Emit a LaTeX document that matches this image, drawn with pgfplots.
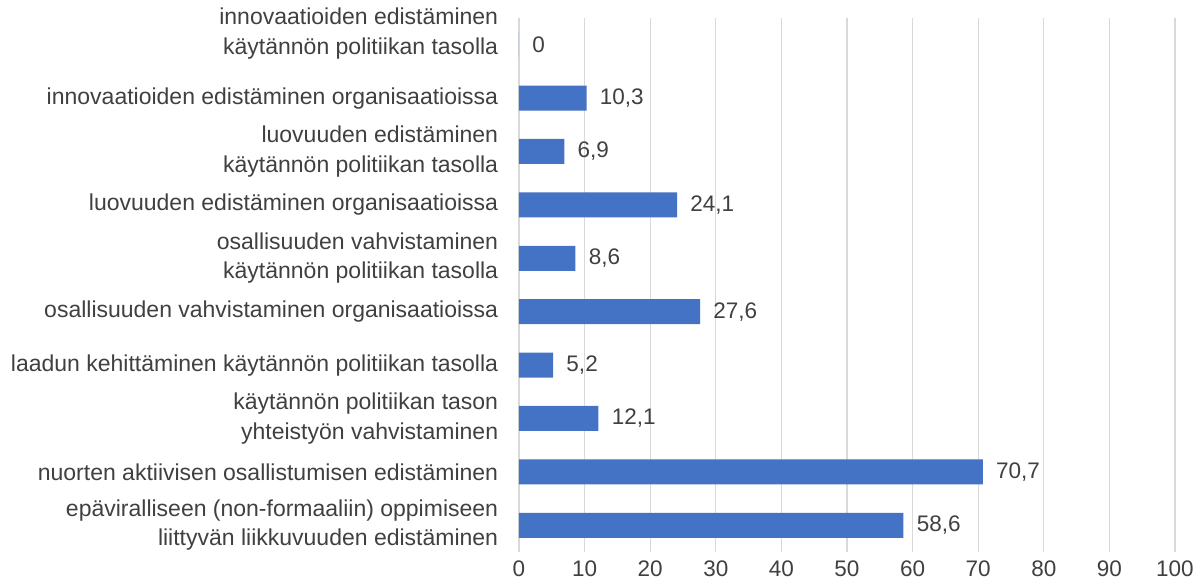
\documentclass[border=0pt]{standalone}
\usepackage{pgfplots}
\pgfplotsset{compat=1.18}
\usepackage{fontspec}
\setmainfont{Liberation Sans}
\definecolor{barblue}{HTML}{4472C4}
\definecolor{txt}{HTML}{404040}
\definecolor{gridc}{HTML}{D9D9D9}
\begin{document}
\begin{tikzpicture}
\useasboundingbox (-311.4pt,-17.4pt) rectangle (404.4pt,331.2pt);
\begin{axis}[
  scale only axis,
  width=393.6pt, height=320.4pt,
  xbar, bar width=15pt,
  xmin=0, xmax=100, xtick={0,10,...,100},
  ymin=-0.5, ymax=9.5, ytick={0,...,8},
  yticklabels={{epäviralliseen (non-formaaliin) oppimiseen\\liittyvän liikkuvuuden edistäminen},
    {nuorten aktiivisen osallistumisen edistäminen},
    {käytännön politiikan tason\\yhteistyön vahvistaminen},
    {laadun kehittäminen käytännön politiikan tasolla},
    {osallisuuden vahvistaminen organisaatioissa},
    {osallisuuden vahvistaminen\\käytännön politiikan tasolla},
    {luovuuden edistäminen organisaatioissa},
    {luovuuden edistäminen\\käytännön politiikan tasolla},
    {innovaatioiden edistäminen organisaatioissa}},
  extra y ticks={9},
  extra y tick labels={{innovaatioiden edistäminen\\käytännön politiikan tasolla}},
  extra y tick style={yticklabel style={yshift=6.6pt}, major tick length=0pt},
  yticklabel style={align=right, font=\fontsize{13.8}{17.6}\selectfont, text=txt, xshift=-9pt},
  xticklabel style={font=\fontsize{13.5}{15}\selectfont, text=txt, yshift=-1.5pt},
  /pgf/number format/assume math mode=true,
  xmajorgrids, grid style={gridc, line width=0.8pt},
  axis line style={draw=none},
  major tick length=0pt,
  nodes near coords,
  nodes near coords style={font=\fontsize{13.5}{15}\selectfont, text=txt, anchor=west, xshift=4.5pt},
  /pgf/number format/.cd, use comma, fixed, precision=1,
  /pgfplots/.cd,
]
\addplot[fill=barblue, draw=none] coordinates {
  (58.6,0) (70.7,1) (12.1,2) (5.2,3) (27.6,4) (8.6,5) (24.1,6) (6.9,7) (10.3,8) (0,9)
};
\end{axis}
\end{tikzpicture}
\end{document}
